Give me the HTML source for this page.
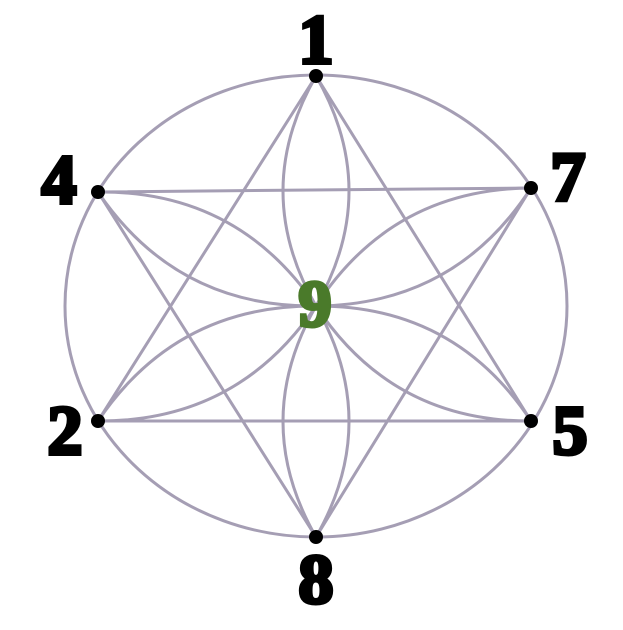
<!DOCTYPE html>
<html><head><meta charset="utf-8"><style>
html,body{margin:0;padding:0;background:#fff;}
svg{display:block}
text{font-family:"Liberation Serif",serif;font-weight:bold;font-size:70px;text-anchor:middle}
</style></head><body>
<svg width="623" height="630" viewBox="0 0 623 630">
<g fill="none" stroke="#a59eb4" stroke-width="3">
<ellipse cx="316" cy="306" rx="251" ry="231"/>
<path d="M316 76 L98 421 L531 421 Z"/>
<path d="M98 192 L531 188 L316 537 Z"/>
<path d="M316 76 Q382 191 316 306 Q250 191 316 76"/>
<path d="M316 537 Q382 421.5 316 306 Q250 421.5 316 537"/>
<path d="M98 192 Q176.4 307.5 316 306 Q237.6 190.5 98 192"/>
<path d="M531 421 Q454.7 305.3 316 306 Q392.3 421.7 531 421"/>
<path d="M531 188 Q391.8 189.1 316 306 Q455.2 304.9 531 188"/>
<path d="M98 421 Q237.8 421.8 316 306 Q176.2 305.2 98 421"/>
</g>
<g fill="#000">
<circle cx="316" cy="76" r="7"/>
<circle cx="98" cy="192" r="7"/>
<circle cx="531" cy="188" r="7"/>
<circle cx="98" cy="421" r="7"/>
<circle cx="531" cy="421" r="7"/>
<circle cx="316" cy="537" r="7"/>
</g>
<g fill="#000" stroke="#000" stroke-width="4">
<text x="316" y="63">1</text>
<text x="59" y="203">4</text>
<text x="568" y="200">7</text>
<text x="65" y="454">2</text>
<text x="570" y="454">5</text>
<text x="316" y="603">8</text>
</g>
<text x="315" y="326" fill="#4a7a2a" stroke="#4a7a2a" stroke-width="4" style="font-size:66px">9</text>
</svg>
</body></html>
